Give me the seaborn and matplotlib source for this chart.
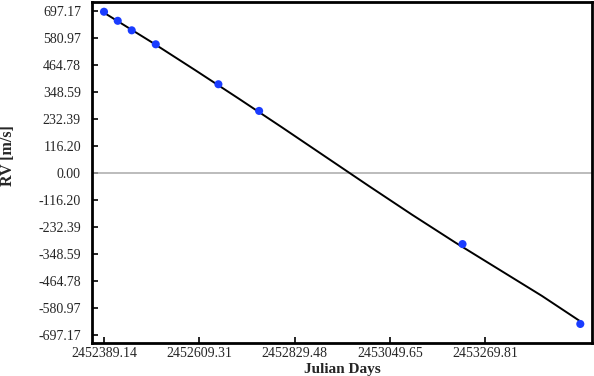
import matplotlib
matplotlib.use("Agg")
import matplotlib.pyplot as plt
import pandas as pd
import seaborn as sns

# observed radial velocities
jd_obs = [2452389.1, 2452420.8, 2452453.1, 2452508.6, 2452653.2, 2452747.2, 2453216.8, 2453488.7]
rv_obs = [694.0, 655.0, 614.0, 553.8, 381.7, 266.8, -306.8, -651.0]

# fitted model curve
jd_fit = [2452389, 2452500, 2452600, 2452700, 2452800, 2452900, 2453000,
          2453100, 2453200, 2453300, 2453400, 2453489]
rv_fit = [690, 562, 442, 320, 196, 70, -56, -180, -300, -415, -530, -640]

xticks = ["2452389.14", "2452609.31", "2452829.48", "2453049.65", "2453269.81"]
yticks = ["-697.17", "-580.97", "-464.78", "-348.59", "-232.39", "-116.20", "0.00",
          "116.20", "232.39", "348.59", "464.78", "580.97", "697.17"]

sns.set_style("ticks")
plt.rcParams['font.family'] = ['Liberation Serif', 'DejaVu Serif']

obs = pd.DataFrame({'jd': jd_obs, 'rv': rv_obs})
fit = pd.DataFrame({'jd': jd_fit, 'rv': rv_fit})

fig = plt.figure(figsize=(5.94, 3.76), dpi=100)
ax = fig.add_axes([92/594, 1-343/376, 500/594, 341/376])

ax.axhline(0, color='#aaaaaa', lw=1.1, zorder=1)
sns.lineplot(data=fit, x='jd', y='rv', color='black', lw=1.4, ax=ax, zorder=2)
sns.scatterplot(data=obs, x='jd', y='rv', color='#1a3cff', s=34, edgecolor='none', ax=ax, zorder=3)

ax.set_xlim(2452361.4, 2453515.7)
ax.set_ylim(-733, 736)
ax.set_xticks([float(t) for t in xticks])
ax.set_xticklabels(xticks)
ax.set_yticks([float(t) for t in yticks])
ax.set_yticklabels(yticks)
ax.tick_params(direction='in', length=4.5, width=1.2, labelsize=10, color='black')
ax.tick_params(axis='y', pad=8)
ax.tick_params(axis='x', pad=3)

for s in ax.spines.values():
    s.set_linewidth(2)
    s.set_color('black')

ax.set_xlabel('Julian Days', fontsize=11, fontweight='bold')
ax.xaxis.set_label_coords(0.5, -0.079)
ax.xaxis.label.set_va('center')
ax.set_ylabel('RV [m/s]', fontsize=11.5, fontweight='bold')
ax.yaxis.set_label_coords(-0.152, 0.55)

fig.savefig('out.png', dpi=100)
